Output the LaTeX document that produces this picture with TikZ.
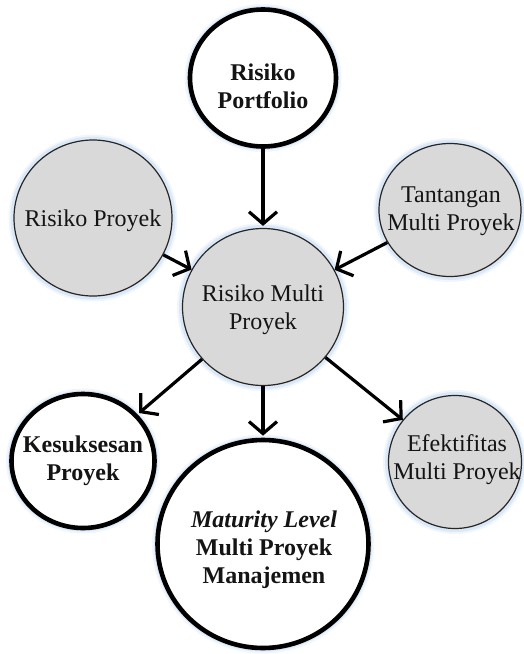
\documentclass[tikz,border=0pt]{standalone}
\usepackage{fontspec}
\setmainfont{Liberation Serif}
\usetikzlibrary{shapes.geometric, arrows.meta}
\definecolor{bubblegray}{RGB}{217,217,217}
\definecolor{haze}{RGB}{196,218,242}

\begin{document}
\begin{tikzpicture}[x=1pt, y=-1pt,
  bubble/.style={ellipse, inner sep=0pt,
    preaction={draw=haze, line width=11pt, opacity=0.25},
    preaction={draw=haze, line width=7pt, opacity=0.5}},
  keybubble/.style={bubble, draw=black, fill=white, line width=4.6pt},
  graybubble/.style={bubble, draw=black!85, fill=bubblegray, line width=1.2pt},
  bubbletext/.style={align=center, inner sep=0pt, text=black!92,
    font=\fontsize{24}{28}\selectfont},
  boldtext/.style={bubbletext, font=\fontsize{24}{28}\selectfont\bfseries},
  flow/.style={line width=3.2pt, draw=black,
    -{Straight Barb[length=12pt, width=28pt]}}]

\path[use as bounding box] (0,0) rectangle (523,654);

% circles
\node[keybubble,  minimum width=146pt, minimum height=137pt] (pf) at (263,78)  {};
\node[graybubble, minimum width=158pt, minimum height=156pt] (rp) at (93,218)  {};
\node[graybubble, minimum width=142pt, minimum height=133pt] (tm) at (450,210) {};
\node[graybubble, minimum width=161pt, minimum height=157pt] (rm) at (263,307) {};
\node[keybubble,  minimum width=143pt, minimum height=134pt] (ks) at (83,461)  {};
\node[keybubble,  minimum width=211pt, minimum height=208pt] (ml) at (263,544) {};
\node[graybubble, minimum width=133pt, minimum height=133pt] (ef) at (455,462) {};

% texts
\node[boldtext]   (pft) at (263,86.5)  {Risiko\\Portfolio};
\node[bubbletext] (rpt) at (93,220.5)  {Risiko Proyek};
\node[bubbletext] (tmt) at (451,211)   {Tantangan\\Multi Proyek};
\node[bubbletext] (rmt) at (263,309.5) {Risiko Multi\\Proyek};
\node[boldtext]   (kst) at (83,460.5)  {Kesuksesan\\Proyek};
\node[boldtext]   (mlt) at (264,549.5) {\textit{Maturity Level}\\Multi Proyek\\Manajemen};
\node[bubbletext] (eft) at (457,460)   {Efektifitas\\Multi Proyek};

% connectors
\draw[flow, shorten >=2pt] (pf) -- (rm);
\draw[flow] (rp) -- (rm);
\draw[flow] (tm) -- (rm);
\draw[flow, shorten >=2pt] (rm) -- (ks);
\draw[flow, shorten >=2pt] (rm) -- (ml);
\draw[flow] (rm) -- (ef);
\end{tikzpicture}
\end{document}
